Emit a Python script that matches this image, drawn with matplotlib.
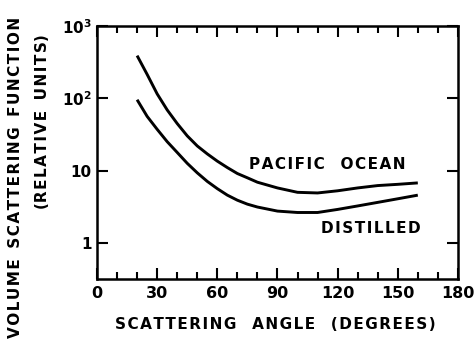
import numpy as np
import matplotlib
matplotlib.use("Agg")
import matplotlib.pyplot as plt
from matplotlib.ticker import FixedLocator, MultipleLocator, NullLocator

# scattering angle (degrees) and relative volume scattering function
angle = [20, 25, 30, 35, 40, 45, 50, 55, 60, 65, 70, 75, 80, 90, 100, 110, 120,
         130, 140, 150, 160]
pacific = [389, 214, 115, 69, 44.7, 30.2, 21.9, 17.0, 13.5, 11.0, 9.1, 7.94, 6.9,
           5.75, 5.0, 4.9, 5.25, 5.75, 6.2, 6.45, 6.75]
distilled = [95.5, 56.2, 37.2, 25.1, 17.8, 12.6, 9.3, 7.08, 5.62, 4.57, 3.89, 3.43,
             3.13, 2.75, 2.63, 2.63, 2.9, 3.24, 3.63, 4.07, 4.57]

xticks = [0, 30, 60, 90, 120, 150, 180]
yticks = [1, 10, 100, 1000]
ylabels = ["1", "10", "$10^2$", "$10^3$"]


def spaced(s):
    # stencil lettering is widely spaced, pad letters with hair spaces
    return "\u200a".join(s)


plt.rcParams["font.family"] = "DejaVu Sans"
plt.rcParams["font.weight"] = "bold"
plt.rcParams["mathtext.fontset"] = "custom"
plt.rcParams["mathtext.rm"] = "DejaVu Sans:bold"
plt.rcParams["mathtext.default"] = "rm"

fig = plt.figure(figsize=(4.76, 3.55), dpi=100)
ax = fig.add_axes([0.2038, 0.2141, 0.7582, 0.7127])

ax.plot(angle, pacific, color="black", lw=2.1, solid_capstyle="butt")
ax.plot(angle, distilled, color="black", lw=2.1, solid_capstyle="butt")

ax.set_yscale("log")
ax.set_xlim(0, 180)
ax.set_ylim(10 ** -0.5, 1000)

ax.xaxis.set_major_locator(FixedLocator(xticks))
ax.xaxis.set_minor_locator(MultipleLocator(10))
ax.set_xticklabels([str(t) for t in xticks])
ax.yaxis.set_major_locator(FixedLocator(yticks))
ax.yaxis.set_minor_locator(NullLocator())
ax.set_yticklabels(ylabels)

ax.tick_params(axis="x", which="major", direction="in", top=True, bottom=True,
               length=8, width=1.5, labelsize=11.5, pad=5)
ax.tick_params(axis="x", which="minor", direction="in", top=True, bottom=True,
               length=5, width=1.5)
ax.tick_params(axis="y", which="major", direction="in", left=True, right=True,
               length=8, width=1.5, labelsize=11, pad=4)
for s in ax.spines.values():
    s.set_linewidth(1.8)

ax.text(114.7, 12, spaced("PACIFIC") + "   " + spaced("OCEAN"), ha="center",
        va="center", fontsize=11)
ax.text(136.6, 1.56, spaced("DISTILLED"), ha="center", va="center", fontsize=11)

fig.text(0.578, 0.085, spaced("SCATTERING") + "   " + spaced("ANGLE") + "   "
         + spaced("(DEGREES)"), ha="center", va="center", fontsize=11)
fig.text(0.032, 0.50, spaced("VOLUME") + "  " + spaced("SCATTERING") + "  "
         + spaced("FUNCTION"), ha="center", va="center", rotation=90, fontsize=11)
fig.text(0.09, 0.656, "(" + spaced("RELATIVE") + "  " + spaced("UNITS") + ")",
         ha="center", va="center", rotation=90, fontsize=11)

fig.savefig("out.png", dpi=100)
